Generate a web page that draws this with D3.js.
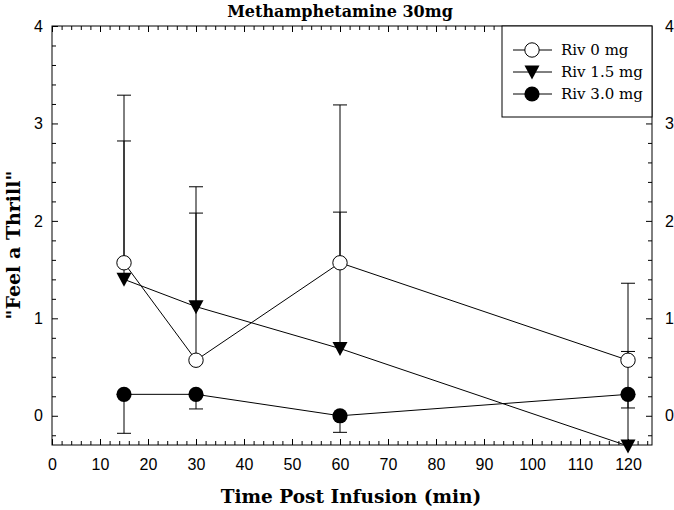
<!DOCTYPE html>
<html><head><meta charset="utf-8">
<script src="https://cdn.jsdelivr.net/npm/d3@7"></script>
<style>
body{margin:0;background:#fff;}
svg{display:block;}
</style></head><body>
<svg id="c" width="674" height="510"></svg>
<script>
const times = [15, 30, 60, 120];
const seriesNames = ["Riv 0 mg", "Riv 1.5 mg", "Riv 3.0 mg"];
const riv0 = [1.57, 0.57, 1.57, 0.57];
const riv0Err = [1.72, 1.78, 1.62, 0.79];      // upper error
const riv15 = [1.40, 1.12, 0.69, -0.31];
const riv15Err = [1.42, 0.96, 1.40, 0.97];     // upper error
const riv30 = [0.22, 0.22, 0.0, 0.22];
const riv30Err = [0.40, 0.15, 0.17, 0.14];     // lower error
const xTicks = [0,10,20,30,40,50,60,70,80,90,100,110,120];
const yTicks = [0,1,2,3,4];

const svg = d3.select("#c");
const L = 52, R = 652, T = 26, B = 445;
const x = d3.scaleLinear().domain([0,125]).range([L,R]);
const y = d3.scaleLinear().domain([-0.3,4]).range([B,T]);

const sans = "'Liberation Sans', Arial, sans-serif";
const serif = "'DejaVu Serif', 'Liberation Serif', serif";

const xMinor = d3.range(0,125.001,2).filter(v => v%10 !== 0);
const yMinor = d3.range(-0.2,4.001,0.2).map(v=>+v.toFixed(1)).filter(v => Math.abs(v - Math.round(v))>1e-6);

function axisGroup(axis, tx, ty){
  const g = svg.append("g").attr("transform",`translate(${tx},${ty})`).call(axis);
  g.select(".domain").remove();
  g.selectAll("line").attr("stroke","#000");
  return g;
}
axisGroup(d3.axisBottom(x).tickValues(xTicks).tickSize(-6).tickPadding(14).tickFormat(d3.format("d")),0,B)
  .selectAll("text").attr("font-family",sans).attr("font-size",16).attr("fill","#000");
axisGroup(d3.axisBottom(x).tickValues(xMinor).tickSize(-4).tickFormat(""),0,B);
axisGroup(d3.axisTop(x).tickValues(xTicks).tickSize(-6).tickFormat(""),0,T);
axisGroup(d3.axisTop(x).tickValues(xMinor).tickSize(-4).tickFormat(""),0,T);
axisGroup(d3.axisLeft(y).tickValues(yTicks).tickSize(-6).tickPadding(9).tickFormat(d3.format("d")),L,0)
  .selectAll("text").attr("font-family",sans).attr("font-size",16).attr("fill","#000");
axisGroup(d3.axisLeft(y).tickValues(yMinor).tickSize(-4).tickFormat(""),L,0);
axisGroup(d3.axisRight(y).tickValues(yTicks).tickSize(-6).tickPadding(13).tickFormat(d3.format("d")),R,0)
  .selectAll("text").attr("font-family",sans).attr("font-size",16).attr("fill","#000");
axisGroup(d3.axisRight(y).tickValues(yMinor).tickSize(-4).tickFormat(""),R,0);

svg.append("rect").attr("x",L).attr("y",T).attr("width",R-L).attr("height",B-T)
  .attr("fill","none").attr("stroke","#000").attr("stroke-width",1);

const series = [
  {vals: riv0, err: riv0Err, dir: 1, sym: "open"},
  {vals: riv15, err: riv15Err, dir: 1, sym: "tri"},
  {vals: riv30, err: riv30Err, dir: -1, sym: "filled"}
];
const line = d3.line().x((d,i)=>x(times[i])).y(d=>y(d));
const cap = 7;

series.forEach(s=>{
  svg.append("path").attr("d", line(s.vals)).attr("fill","none").attr("stroke","#000").attr("stroke-width",1);
});
series.forEach(s=>{
  const g = svg.append("g");
  s.vals.forEach((v,i)=>{
    const end = v + s.dir*s.err[i];
    g.append("line").attr("x1",x(times[i])).attr("x2",x(times[i])).attr("y1",y(v)).attr("y2",y(end)).attr("stroke","#000");
    g.append("line").attr("x1",x(times[i])-cap).attr("x2",x(times[i])+cap).attr("y1",y(end)).attr("y2",y(end)).attr("stroke","#000");
  });
});
function drawSym(g, sym, cx, cy){
  if(sym==="open"){
    g.append("circle").attr("cx",cx).attr("cy",cy).attr("r",7.2).attr("fill","#fff").attr("stroke","#000").attr("stroke-width",1);
  } else if(sym==="filled"){
    g.append("circle").attr("cx",cx).attr("cy",cy).attr("r",7.6).attr("fill","#000");
  } else {
    g.append("path").attr("d",`M${cx-7.5},${cy-6.5}L${cx+7.5},${cy-6.5}L${cx},${cy+7.5}Z`).attr("fill","#000");
  }
}
series.forEach(s=>{
  const g = svg.append("g");
  s.vals.forEach((v,i)=>drawSym(g, s.sym, x(times[i]), y(v)));
});

const lg = svg.append("g");
lg.append("rect").attr("x",502).attr("y",T).attr("width",R-502).attr("height",91)
  .attr("fill","#fff").attr("stroke","#000");
const rowsY = [50, 72, 94];
series.forEach((s,i)=>{
  lg.append("line").attr("x1",513).attr("x2",552).attr("y1",rowsY[i]).attr("y2",rowsY[i]).attr("stroke","#000");
  drawSym(lg, s.sym, 532, rowsY[i]);
  lg.append("text").attr("x",561).attr("y",rowsY[i]+5).attr("font-family",serif).attr("font-size",15)
    .attr("fill","#000").text(seriesNames[i]);
});

svg.append("text").attr("x",340).attr("y",17).attr("text-anchor","middle").attr("font-family",serif)
  .attr("font-weight","bold").attr("font-size",16).text("Methamphetamine 30mg");
svg.append("text").attr("x",351).attr("y",503).attr("text-anchor","middle").attr("font-family",serif)
  .attr("font-weight","bold").attr("font-size",18.5).text("Time Post Infusion (min)");
svg.append("text").attr("transform","translate(20,245) rotate(-90)").attr("text-anchor","middle").attr("font-family",serif)
  .attr("font-weight","bold").attr("font-size",19).text("\"Feel a Thrill\"");
</script>
</body></html>
